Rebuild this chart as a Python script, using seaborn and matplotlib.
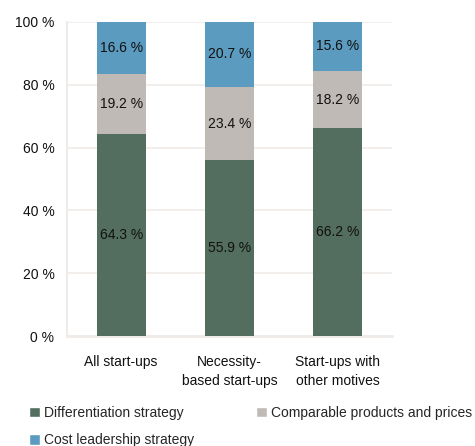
import matplotlib
matplotlib.use("Agg")
import matplotlib.pyplot as plt
import seaborn as sns
import pandas as pd
import numpy as np
from matplotlib.patches import Patch

categories = ["All start-ups", "Necessity-\nbased start-ups", "Start-ups with\nother motives"]
differentiation = [64.3, 55.9, 66.2]
comparable = [19.2, 23.4, 18.2]
cost_leadership = [16.6, 20.7, 15.6]
series_names = ["Differentiation strategy", "Comparable products and prices", "Cost leadership strategy"]
yticks = [0, 20, 40, 60, 80, 100]

c_green = "#536e5f"
c_gray = "#bfbab6"
c_blue = "#5b9bbf"

sns.set_theme(style="white")
plt.rcParams["font.family"] = ["Liberation Sans", "DejaVu Sans"]

fig = plt.figure(figsize=(4.75, 4.46), dpi=100)
ax = fig.add_axes([67/475, 1-336/446, (392-67)/475, (336-22)/446])

d = np.array(differentiation)
c = np.array(comparable)
b = np.array(cost_leadership)
df = pd.DataFrame({"cat": categories,
                   "top": d + c + b,
                   "mid": d + c,
                   "low": d})
w = 0.45
for col, colr in [("top", c_blue), ("mid", c_gray), ("low", c_green)]:
    sns.barplot(data=df, x="cat", y=col, color=colr, width=w, ax=ax, saturation=1,
                zorder=3, linewidth=0, edgecolor="none")

for i in range(len(categories)):
    ax.text(i, d[i] / 2, f"{d[i]:.1f} %", ha="center", va="center", fontsize=10, color="#111111", zorder=4)
    ax.text(i, d[i] + c[i] / 2, f"{c[i]:.1f} %", ha="center", va="center", fontsize=10, color="#111111", zorder=4)
    ax.text(i, d[i] + c[i] + b[i] / 2, f"{b[i]:.1f} %", ha="center", va="center", fontsize=10, color="#111111", zorder=4)

ax.set_ylim(0, 100)
ax.set_xlim(-0.5, 2.5)
ax.set_yticks(yticks)
ax.set_yticklabels([f"{t} %" for t in yticks], fontsize=10, color="#111111")
ax.set_xticks(range(len(categories)))
ax.set_xticklabels(categories, fontsize=10, color="#111111", linespacing=1.45)
ax.tick_params(axis="x", length=0, pad=14)
ax.tick_params(axis="y", length=0, pad=9)
ax.set_xlabel("")
ax.set_ylabel("")
ax.yaxis.grid(True, color="#efebe8", linewidth=1.2, zorder=0)
for s in ["top", "right"]:
    ax.spines[s].set_visible(False)
ax.spines["left"].set_color("#efebe8")
ax.spines["left"].set_linewidth(1.5)
ax.spines["bottom"].set_color("#efebe8")
ax.spines["bottom"].set_linewidth(2)

handles = [Patch(facecolor=c_green, label=series_names[0]),
           Patch(facecolor=c_blue, label=series_names[2]),
           Patch(facecolor=c_gray, label=series_names[1])]
fig.legend(handles=handles, loc="upper left", bbox_to_anchor=(29/475, 1-406/446), ncol=2,
           frameon=False, fontsize=10, handlelength=0.8, handleheight=0.8, handletextpad=0.3,
           columnspacing=4.4, labelspacing=0.95, borderaxespad=0, borderpad=0)

fig.savefig("out.png", dpi=100)
